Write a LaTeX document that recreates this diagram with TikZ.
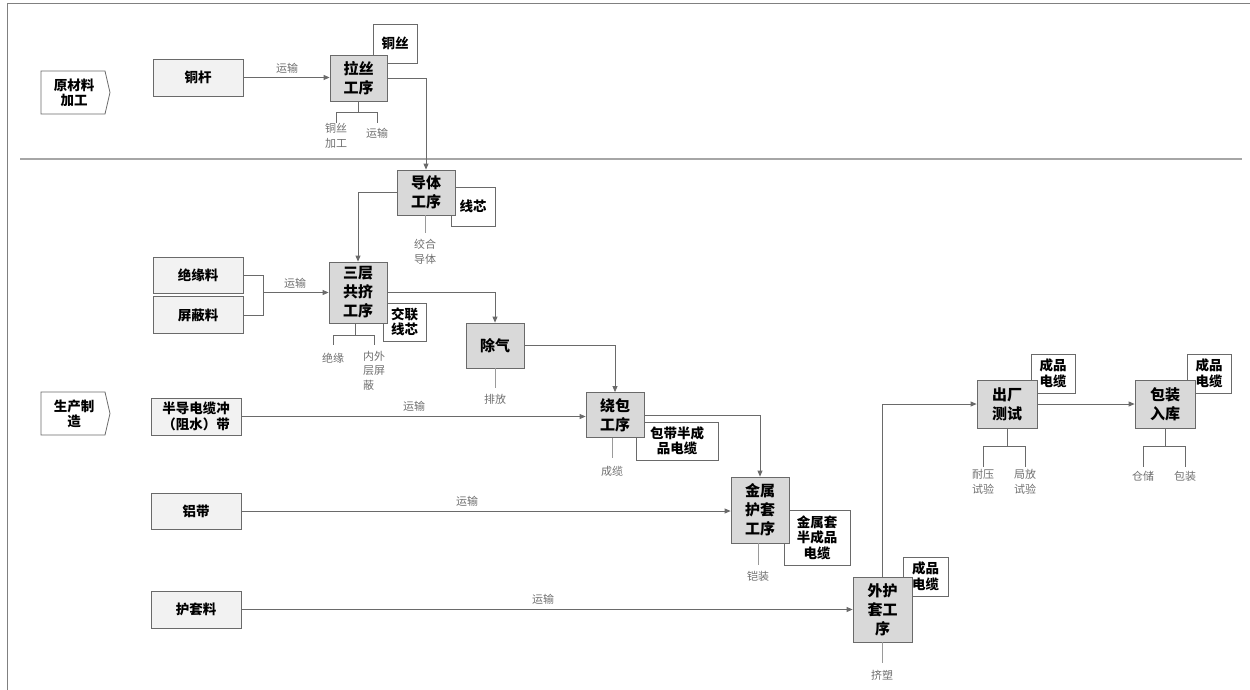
\documentclass[tikz,border=0pt]{standalone}
\usepackage{fontspec}
\setmainfont{Noto Sans CJK SC}
\usetikzlibrary{arrows.meta,shadows}
\definecolor{procfill}{HTML}{D9D9D9}
\definecolor{srcfill}{HTML}{F2F2F2}
\definecolor{edgec}{HTML}{6A6A6A}
\definecolor{lblc}{HTML}{707070}
\definecolor{stemc}{HTML}{9A9A9A}
\definecolor{framec}{HTML}{808080}
\begin{document}
\begin{tikzpicture}[x=1pt,y=-1pt,
  proc/.style={draw=edgec, fill=procfill, line width=0.8pt, inner sep=0pt, align=center,
    font=\fontsize{15}{19}\selectfont\bfseries,
    drop shadow={shadow xshift=0.8pt, shadow yshift=-0.8pt, fill=black!35, opacity=0.6}},
  src/.style={draw=edgec, fill=srcfill, line width=0.8pt, inner sep=0pt, align=center,
    minimum width=90pt, minimum height=37pt,
    font=\fontsize{13.5}{16.5}\selectfont\bfseries,
    drop shadow={shadow xshift=0.8pt, shadow yshift=-0.8pt, fill=black!35, opacity=0.6}},
  outbox/.style={draw=edgec, fill=white, line width=0.8pt, inner sep=0pt, align=center,
    font=\fontsize{13.5}{15.5}\selectfont\bfseries},
  pent/.style={draw=edgec, fill=white, line width=0.8pt},
  penttext/.style={align=center, inner sep=0pt, font=\fontsize{13.5}{15}\selectfont\bfseries},
  lbl/.style={text=lblc, font=\fontsize{11}{14.5}\selectfont, align=left, inner sep=0pt},
  arr/.style={draw=edgec, line width=0.8pt, -{Triangle[length=6pt,width=5pt]}},
  link/.style={draw=edgec, line width=0.8pt},
  stemline/.style={draw=stemc, line width=0.8pt}
]
\useasboundingbox (0,0) rectangle (1250,690);
% frame
\draw[framec, line width=1pt] (1250,4) -- (7,4) -- (7,690);
\draw[black!35, line width=1.2pt] (20,159) -- (1242,159);

% stage markers
\draw[pent] (41,71) -- (105,71) -- (110,92.5) -- (105,114) -- (41,114) -- cycle;
\node[penttext] (raw) at (74,92.5) {原材料\\加工};
\draw[pent] (41,392) -- (105,392) -- (110,413.5) -- (105,435) -- (41,435) -- cycle;
\node[penttext] (prod) at (74,413.5) {生产制\\造};

% output boxes (behind process boxes)
\node[outbox, minimum width=44pt, minimum height=39pt] (o0) at (395,43.5) {铜丝};
\node[outbox, minimum width=44pt, minimum height=39pt] (oc) at (473,206.5) {线芯};
\node[outbox, minimum width=43pt, minimum height=38pt] (ox) at (404.5,322) {交联\\线芯};
\node[outbox, minimum width=82pt, minimum height=38pt] (ow) at (677,441) {包带半成\\品电缆};
\node[outbox, minimum width=66pt, minimum height=55pt] (om) at (817,537.5) {金属套\\半成品\\电缆};
\node[outbox, minimum width=45pt, minimum height=39pt] (o1) at (925.5,576.5) {成品\\电缆};
\node[outbox, minimum width=44pt, minimum height=39pt] (o2) at (1053,373.5) {成品\\电缆};
\node[outbox, minimum width=44pt, minimum height=39pt] (o3) at (1209,373.5) {成品\\电缆};

% source boxes
\node[src] (rod) at (198,77.5) {铜杆};
\node[src, minimum height=36pt] (ins) at (198,275) {绝缘料};
\node[src] (shd) at (198,315) {屏蔽料};
\node[src] (tape) at (196,416.5) {半导电缆冲\\（阻水）带};
\node[src, minimum height=36pt] (al) at (196,511) {铝带};
\node[src] (jm) at (196,609.5) {护套料};

% process boxes
\node[proc, minimum width=57pt, minimum height=46pt] (lasi) at (358.5,78) {拉丝\\工序};
\node[proc, minimum width=58pt, minimum height=45pt] (cond) at (426,192.5) {导体\\工序};
\node[proc, minimum width=58pt, minimum height=61pt] (tri) at (358,292.5) {三层\\共挤\\工序};
\node[proc, minimum width=58pt, minimum height=45pt] (degas) at (495,345.5) {除气};
\node[proc, minimum width=58pt, minimum height=45pt] (wrap) at (615,415) {绕包\\工序};
\node[proc, minimum width=58pt, minimum height=66pt] (metal) at (760,510) {金属\\护套\\工序};
\node[proc, minimum width=59pt, minimum height=65pt] (outer) at (882.5,609.5) {外护\\套工\\序};
\node[proc, minimum width=60pt, minimum height=48pt] (test) at (1007,404) {出厂\\测试};
\node[proc, minimum width=60pt, minimum height=48pt] (pack) at (1165,404) {包装\\入库};

% main connectors
\draw[arr] (rod.east) -- (rod.east -| lasi.west);
\node[lbl] (t1) at (287,68) {运输};
\draw[arr] (lasi.east) -| (cond.north);
\draw[arr] (cond.west) -| (tri.north);
\draw[link] (ins.east) -- ++(20,0) |- (shd.east);
\coordinate (jn) at (263,292.5);
\draw[arr] (jn) -- (tri.west);
\node[lbl] (t2) at (295,283) {运输};
\draw[arr] (tri.east) -| (degas.north);
\draw[arr] (degas.east) -| (wrap.north);
\draw[arr] (tape.east) -- (tape.east -| wrap.west);
\node[lbl] (t3) at (414,406) {运输};
\draw[arr] (wrap.east) -| (metal.north);
\draw[arr] (al.east) -- (al.east -| metal.west);
\node[lbl] (t4) at (467,501) {运输};
\draw[arr] (jm.east) -- (outer.west);
\node[lbl] (t5) at (543,599) {运输};
\draw[arr] (outer.north) |- (test.west);
\draw[arr] (test.east) -- (pack.west);

% branch labels
\node[lbl] (l1) at (336,136) {铜丝\\加工};
\node[lbl] (l2) at (377,133) {运输};
\draw[link] (lasi.south) -- ++(0,11) coordinate (b1);
\draw[link] (l1.north |- b1) -- (l2.north |- b1);
\draw[link] (l1.north |- b1) -- ++(0,11);
\draw[link] (l2.north |- b1) -- ++(0,11);

\node[lbl] (l3) at (333,358) {绝缘};
\node[lbl, anchor=north west] (l4) at (363,351) {内外\\层屏\\蔽};
\coordinate (b2) at (355,335);
\draw[link] (b2 |- tri.south) -- (b2);
\draw[link] (333,335) -- (374,335);
\draw[link] (333,335) -- (333,345);
\draw[link] (374,335) -- (374,345);

\node[lbl] (ty) at (983,482) {耐压\\试验};
\node[lbl] (jf) at (1025,482) {局放\\试验};
\draw[link] (test.south) -- ++(0,18) coordinate (b3);
\draw[link] (ty.north |- b3) -- (jf.north |- b3);
\draw[link] (ty.north |- b3) -- ++(0,21);
\draw[link] (jf.north |- b3) -- ++(0,21);

\node[lbl] (cc) at (1143,476) {仓储};
\node[lbl] (bz) at (1185,476) {包装};
\draw[link] (pack.south) -- ++(0,18) coordinate (b4);
\draw[link] (cc.north |- b4) -- (bz.north |- b4);
\draw[link] (cc.north |- b4) -- ++(0,21);
\draw[link] (bz.north |- b4) -- ++(0,21);

% single stems
\node[lbl] (s1) at (425,252) {绞合\\导体};
\draw[stemline] ([xshift=-1pt]cond.south) -- ++(0,18);
\node[lbl] (s2) at (495,399) {排放};
\draw[stemline] (degas.south) -- ++(0,20);
\node[lbl] (s3) at (612,471) {成缆};
\draw[stemline] ([xshift=-3pt]wrap.south) -- ++(0,20);
\node[lbl] (s4) at (758,576) {铠装};
\draw[stemline] ([xshift=-2pt]metal.south) -- ++(0,22);
\node[lbl] (s5) at (882,675) {挤塑};
\draw[stemline] (outer.south) -- ++(0,21);
\end{tikzpicture}
\end{document}
